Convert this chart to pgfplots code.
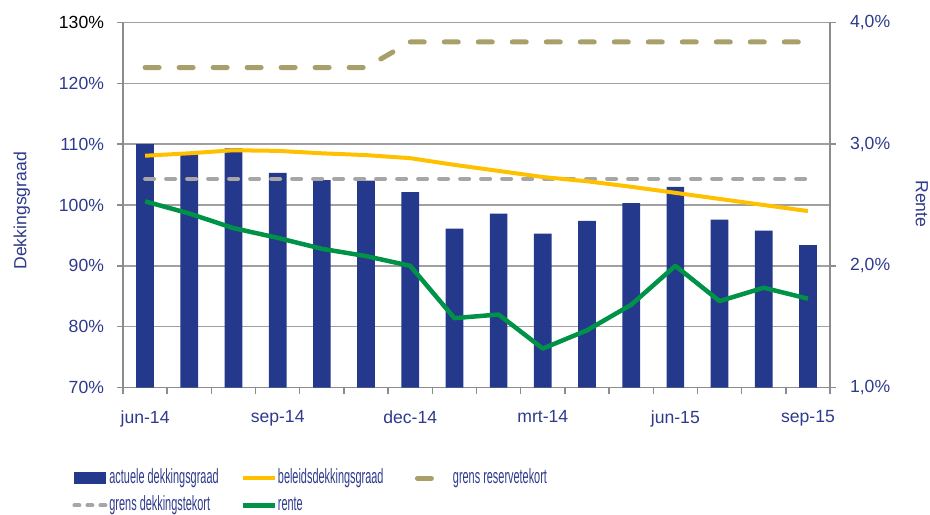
\documentclass[border=0pt]{standalone}
\usepackage{fontspec}
\setmainfont{Liberation Sans}
\newfontfamily\legfont[FakeStretch=0.53]{Liberation Sans}
\usepackage{pgfplots}
\pgfplotsset{compat=1.18}
\definecolor{navy}{RGB}{36,56,140}
\definecolor{textblue}{RGB}{46,58,140}
\definecolor{gold}{RGB}{255,192,0}
\definecolor{khaki}{RGB}{168,159,106}
\definecolor{dgray}{RGB}{166,166,166}
\definecolor{rgreen}{RGB}{0,146,70}
\definecolor{gridgray}{RGB}{160,160,160}
\definecolor{axgray}{RGB}{140,140,140}
\pgfplotsset{
  legline/.style={legend image code/.code={\draw[##1] (0bp,0bp) -- (16bp,0bp);}},
  legbar/.style={legend image code/.code={\fill[navy] (0bp,-3bp) rectangle (16bp,3bp);}},
  common/.style={
    at={(61.5bp,63.25bp)}, anchor=south west,
    scale only axis, width=353.5bp, height=182.5bp,
    xmin=-0.5, xmax=15.5,
    font=\fontsize{8.8bp}{10bp}\selectfont,
    tick align=outside,
    axis line style={draw=axgray, line width=0.7bp},
    tick style={draw=axgray, line width=0.7bp},
    major tick length=3bp, minor tick length=3bp,
  }
}
\begin{document}
\begin{tikzpicture}[x=1bp,y=1bp]
\path[use as bounding box] (0,0) rectangle (465,257);
\begin{axis}[common,
  ymin=70, ymax=130,
  axis x line*=bottom, axis y line*=left,
  ytick={70,80,...,130},
  yticklabels={70\%,80\%,90\%,100\%,110\%,120\%,{\textcolor{black}{130\%}}},
  ymajorgrids, grid style={draw=gridgray, line width=0.7bp},
  yticklabel style={text=textblue, xshift=-3bp},
  xtick={0,3,...,15},
  xticklabels={jun-14,sep-14,dec-14,mrt-14,jun-15,sep-15},
  xticklabel style={text=textblue, yshift=-5bp},
  minor xtick={-0.5,0.5,...,15.5},
  major x tick style={draw=none},
  ylabel={Dekkingsgraad},
  ylabel style={at={(axis description cs:-0.143,0.484)}, anchor=center, text=textblue},
  legend columns=3,
  legend style={at={(axis description cs:-0.0721,-0.2233)}, anchor=north west,
    draw=none, fill=none, inner sep=0pt, row sep=4.5bp, column sep=0pt,
    font=\legfont\fontsize{10.3bp}{11bp}\selectfont, text=textblue,
    cells={anchor=west},
    nodes={inner xsep=0.5bp, inner ysep=0pt, text height=7bp, text depth=2bp}},
]
\addplot[ybar, bar width=8.85bp, fill=navy, draw=none, legbar]
  coordinates {(0,110.0)(1,108.4)(2,109.3)(3,105.3)(4,104.1)(5,104.0)(6,102.1)(7,96.1)
  (8,98.6)(9,95.3)(10,97.4)(11,100.3)(12,103.0)(13,97.6)(14,95.8)(15,93.4)};
\addlegendentry{\makebox[65bp][l]{actuele dekkingsgraad}}
\addplot[forget plot, dgray, line width=2bp, line cap=round, dash pattern=on 4.5bp off 6bp]
  coordinates {(0,104.3)(1,104.3)(2,104.3)(3,104.3)(4,104.3)(5,104.3)(6,104.3)(7,104.3)
  (8,104.3)(9,104.3)(10,104.3)(11,104.3)(12,104.3)(13,104.3)(14,104.3)(15,104.3)};
\addplot[gold, line width=2bp, line join=round, legline]
  coordinates {(0,108.1)(1,108.5)(2,109.0)(3,108.9)(4,108.5)(5,108.2)(6,107.7)(7,106.6)
  (8,105.6)(9,104.6)(10,103.9)(11,103.0)(12,102.0)(13,101.0)(14,100.0)(15,99.0)};
\addlegendentry{\makebox[68bp][l]{beleidsdekkingsgraad}}
\addplot[khaki, line width=2.5bp, line cap=round, line join=round, dash pattern=on 7bp off 10bp, legline]
  coordinates {(0,122.6)(1,122.6)(2,122.6)(3,122.6)(4,122.6)(5,122.6)(6,126.8)(7,126.8)
  (8,126.8)(9,126.8)(10,126.8)(11,126.8)(12,126.8)(13,126.8)(14,126.8)(15,126.8)};
\addlegendentry{grens reservetekort}
\addlegendimage{dgray, line width=2bp, line cap=round, dash pattern=on 2.5bp off 4bp, legline}
\addlegendentry{\makebox[65bp][l]{grens dekkingstekort}}
\addlegendimage{rgreen, line width=2.25bp, legline}
\addlegendentry{rente}
\end{axis}
\begin{axis}[common,
  ymin=1, ymax=4,
  axis x line=none, axis y line*=right,
  ytick={1,2,3,4},
  yticklabels={{1,0\%},{2,0\%},{3,0\%},{4,0\%}},
  yticklabel style={text=textblue, xshift=3.5bp},
  ylabel={Rente},
  ylabel style={at={(axis description cs:1.130,0.503)}, anchor=center, rotate=180, text=textblue},
]
\addplot[rgreen, line width=2.25bp, line join=round]
  coordinates {(0,2.53)(1,2.43)(2,2.31)(3,2.23)(4,2.14)(5,2.08)(6,2.00)(7,1.57)
  (8,1.60)(9,1.32)(10,1.47)(11,1.68)(12,2.00)(13,1.71)(14,1.82)(15,1.73)};
\end{axis}
\end{tikzpicture}
\end{document}
